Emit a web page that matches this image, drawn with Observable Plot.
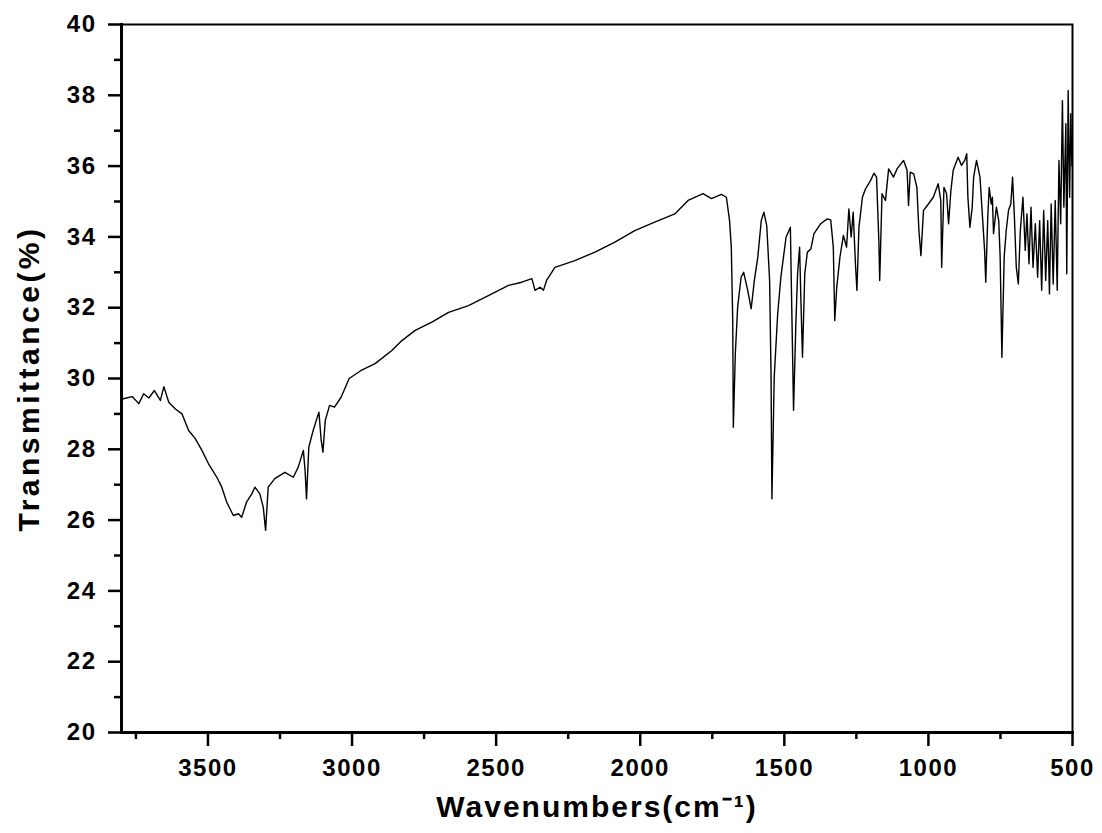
<!DOCTYPE html>
<html><head><meta charset="utf-8">
<script src="https://cdn.jsdelivr.net/npm/d3@7"></script>
<script src="https://cdn.jsdelivr.net/npm/@observablehq/plot@0.6"></script>
<style>
body{margin:0;background:#fff}
#chart svg text{letter-spacing:1.5px}
</style>
</head><body><div id="chart"></div>
<script>
const wavenumbers = [3797,3763,3740,3723,3705,3686,3665,3653,3636,3613,3590,3567,3544,3521,3498,3469,3452,3435,3412,3394,3383,3366,3348,3337,3320,3308,3300,3291,3268,3233,3204,3187,3169,3163,3158,3150,3135,3115,3107,3101,3093,3078,3061,3038,3010,2970,2920,2862,2827,2781,2723,2665,2596,2527,2457,2411,2376,2365,2347,2336,2325,2296,2227,2157,2088,2019,1950,1880,1834,1782,1753,1718,1701,1690,1684,1679,1677,1670,1662,1650,1641,1627,1615,1604,1592,1580,1571,1561,1551,1546,1543,1535,1523,1512,1494,1479,1475,1468,1460,1454,1447,1443,1437,1429,1420,1408,1397,1374,1351,1339,1330,1325,1318,1307,1295,1284,1276,1268,1261,1253,1248,1241,1229,1218,1201,1189,1180,1172,1169,1161,1149,1138,1121,1109,1086,1074,1069,1063,1051,1040,1033,1026,1017,1000,983,966,957,954,946,937,930,922,914,897,885,874,867,863,856,848,843,833,821,813,805,801,794,789,782,778,774,764,756,751,745,737,730,722,714,708,702,695,688,681,672,664,658,651,644,637,629,621,614,607,600,593,586,580,574,567,560,553,547,541,535,530,523,520,515,510,506,502];
const transmittance = [29.42,29.49,29.29,29.57,29.45,29.66,29.38,29.77,29.33,29.14,29.00,28.53,28.30,27.97,27.59,27.21,26.93,26.51,26.13,26.18,26.08,26.51,26.74,26.93,26.74,26.36,25.71,26.93,27.17,27.35,27.21,27.49,27.97,27.40,26.60,28.06,28.53,29.05,28.25,27.92,28.81,29.24,29.19,29.47,30.00,30.22,30.42,30.79,31.07,31.36,31.59,31.87,32.06,32.34,32.63,32.72,32.82,32.49,32.58,32.49,32.77,33.14,33.33,33.57,33.85,34.18,34.42,34.65,35.03,35.22,35.08,35.20,35.12,34.46,33.71,31.64,28.62,30.70,32.01,32.86,33.00,32.49,31.97,32.77,33.43,34.46,34.70,34.32,32.77,30.04,26.60,30.04,31.83,32.86,33.99,34.27,32.39,29.10,31.54,32.96,33.71,32.39,30.60,32.96,33.57,33.66,34.09,34.37,34.51,34.48,33.71,31.64,32.58,33.43,34.04,33.71,34.79,34.00,34.70,33.20,32.49,34.27,35.12,35.36,35.59,35.80,35.69,33.90,32.77,35.22,35.03,35.92,35.69,35.92,36.16,35.88,34.89,35.83,35.78,35.40,34.18,33.47,34.75,34.93,35.12,35.50,35.03,33.14,35.40,35.22,34.37,35.31,35.88,36.25,36.02,36.16,36.35,35.12,34.27,34.84,35.69,36.16,35.69,34.65,33.62,32.72,34.56,35.40,34.93,35.12,34.09,34.84,34.46,33.43,30.60,33.43,34.18,34.75,34.93,35.69,34.65,33.14,32.67,34.18,35.12,33.62,34.65,33.24,34.84,33.14,34.37,32.86,34.46,32.49,34.75,32.77,34.46,32.39,34.93,32.67,35.03,32.49,36.16,34.37,37.85,34.84,37.20,32.96,38.14,35.12,37.48,36.00];
const xTicks = [3500,3000,2500,2000,1500,1000,500];
const xMinorTicks = [3750,3250,2750,2250,1750,1250,750];
const yTicks = [20,22,24,26,28,30,32,34,36,38,40];
const yMinorTicks = [21,23,25,27,29,31,33,35,37,39];
const xTitle = "Wavenumbers(cm\u207B\u00B9)";
const yTitle = "Transmittance(%)";

const data = wavenumbers.map((w, i) => ({w, t: transmittance[i]}));

const chart = Plot.plot({
  width: 1102,
  height: 833,
  marginLeft: 121,
  marginRight: 30,
  marginTop: 24,
  marginBottom: 101,
  style: {fontFamily: "'Liberation Sans', Arial, sans-serif", fontWeight: "bold", fontSize: "24px", color: "#000", background: "#fff", overflow: "visible"},
  x: {domain: [3800, 500]},
  y: {domain: [20, 40]},
  marks: [
    Plot.line(data, {x: "w", y: "t", stroke: "#000", strokeWidth: 1.4}),
    Plot.frame({stroke: "#000", strokeWidth: 2}),
    Plot.frame({anchor: "left", stroke: "#000", strokeWidth: 3}),
    Plot.frame({anchor: "bottom", stroke: "#000", strokeWidth: 3}),
    Plot.axisX({ticks: xTicks, tickFormat: "d", tickSize: 14, tickPadding: 12, strokeWidth: 2.5, label: null, fill: "#000"}),
    Plot.axisX({ticks: xMinorTicks, tickSize: 7, tickFormat: () => "", strokeWidth: 2.5, label: null}),
    Plot.axisY({ticks: yTicks, tickFormat: "d", tickSize: 13, tickPadding: 12, strokeWidth: 2.5, label: null, fill: "#000"}),
    Plot.axisY({ticks: yMinorTicks, tickSize: 7, tickFormat: () => "", strokeWidth: 2.5, label: null}),
    Plot.text([xTitle], {text: d => d, frameAnchor: "bottom", textAnchor: "middle", dy: 84, fontSize: 30, fontWeight: "bold", fill: "#000"}),
    Plot.text([yTitle], {text: d => d, frameAnchor: "left", textAnchor: "middle", dx: -92, rotate: -90, fontSize: 30, fontWeight: "bold", fill: "#000"})
  ]
});
chart.querySelectorAll("text").forEach(t => {
  if (t.textContent === xTitle) t.style.letterSpacing = "2px";
  if (t.textContent === yTitle) t.style.letterSpacing = "3.5px";
});
document.getElementById("chart").appendChild(chart);
</script>
</body></html>
